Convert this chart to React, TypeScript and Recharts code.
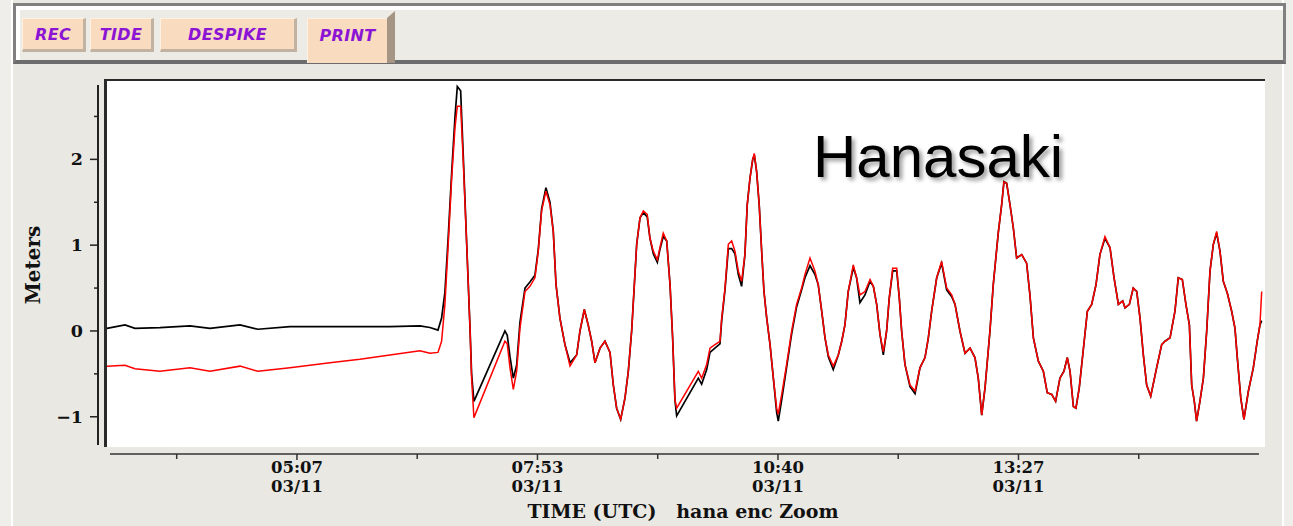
import React from 'react';
import { LineChart, Line, XAxis, YAxis, ReferenceLine } from 'recharts';

// minutes since 00:00 UTC, 03/11
const timeMin = [
  175.0, 187.5, 194.4, 211.7, 232.5, 246.4, 267.2, 279.6, 301.8, 329.5,
  350.3, 371.1, 391.9, 398.8, 404.4, 406.9, 409.2, 411.5, 413.9, 416.2,
  417.8, 420.1, 421.9, 424.3, 426.6, 427.7, 429.3, 450.8, 452.4, 454.3,
  456.6, 458.9, 461.2, 464.7, 468.1, 471.6, 473.9, 476.2, 479.2, 482.0,
  484.3, 486.2, 488.9, 492.4, 495.9, 500.5, 502.8, 505.8, 508.5, 510.9,
  513.2, 516.7, 520.1, 523.6, 525.9, 528.2, 531.0, 534.0, 536.3, 538.6,
  540.2, 542.1, 544.4, 546.7, 549.4, 551.3, 553.6, 556.4, 558.2, 560.5,
  562.9, 565.2, 567.0, 568.6, 569.8, 584.8, 587.1, 590.6, 592.9, 596.3,
  599.8, 601.0, 603.3, 605.6, 607.9, 610.2, 612.5, 614.8, 617.1, 618.7,
  620.6, 622.5, 623.6, 625.2, 627.0, 628.7, 630.3, 632.2, 634.5, 636.8,
  639.1, 640.2, 642.6, 646.0, 649.5, 652.9, 656.4, 658.7, 662.2, 665.6,
  667.9, 670.3, 672.6, 674.9, 678.3, 681.8, 684.2, 686.4, 688.7, 692.2,
  694.5, 696.8, 700.3, 703.8, 706.1, 708.4, 710.7, 713.0, 715.3, 717.1,
  719.5, 722.3, 724.1, 725.7, 728.0, 731.5, 735.0, 738.4, 741.9, 744.2,
  746.5, 750.0, 753.4, 756.9, 760.4, 762.7, 766.1, 769.6, 773.1, 776.5,
  778.8, 781.2, 783.5, 786.9, 789.2, 792.7, 795.0, 796.6, 798.5, 800.8,
  803.1, 805.4, 808.9, 812.3, 814.6, 817.0, 820.4, 823.9, 826.6, 829.7,
  832.4, 835.4, 838.2, 840.5, 842.4, 844.7, 846.5, 848.8, 851.2, 854.4,
  857.4, 860.4, 863.1, 866.6, 870.1, 872.9, 875.9, 878.9, 880.5, 883.5,
  886.2, 888.6, 890.9, 893.2, 895.5, 898.3, 902.4, 905.9, 908.2, 911.7,
  915.1, 917.4, 920.2, 922.7, 925.1, 926.7, 928.5, 930.1, 932.4, 934.8,
  937.1, 939.4, 941.7, 944.0, 946.3, 948.6, 951.4, 954.4, 956.7, 958.3,
  960.7, 962.9, 966.0, 969.4, 972.1, 974.0, 975.2,
];

// red trace (meters)
const redLevel = [
  -0.41, -0.40, -0.44, -0.47, -0.43, -0.47, -0.41, -0.47, -0.43, -0.37,
  -0.33, -0.28, -0.23, -0.26, -0.25, -0.12, 0.31, 1.01, 1.78, 2.37,
  2.62, 2.62, 1.98, 1.01, 0.03, -0.55, -1.01, -0.12, -0.15, -0.43,
  -0.68, -0.47, 0.03, 0.46, 0.52, 0.62, 0.93, 1.40, 1.63, 1.47,
  1.16, 0.54, 0.15, -0.16, -0.41, -0.28, 0.00, 0.25, 0.07, -0.12,
  -0.37, -0.20, -0.12, -0.25, -0.63, -0.90, -1.03, -0.78, -0.47, 0.00,
  0.46, 1.01, 1.32, 1.40, 1.36, 1.08, 0.93, 0.83, 0.97, 1.14,
  1.05, 0.54, -0.08, -0.80, -0.90, -0.47, -0.55, -0.39, -0.20, -0.16,
  -0.12, 0.15, 0.50, 1.01, 1.05, 0.93, 0.70, 0.58, 0.89, 1.47,
  1.78, 2.00, 2.07, 1.86, 1.47, 0.93, 0.46, 0.15, -0.16, -0.55,
  -0.90, -0.97, -0.74, -0.39, 0.00, 0.31, 0.50, 0.66, 0.85, 0.70,
  0.54, 0.23, -0.08, -0.28, -0.41, -0.28, -0.12, 0.07, 0.46, 0.77,
  0.62, 0.42, 0.46, 0.60, 0.52, 0.31, -0.04, -0.24, 0.00, 0.38,
  0.73, 0.73, 0.38, 0.00, -0.39, -0.63, -0.70, -0.43, -0.31, -0.08,
  0.23, 0.62, 0.81, 0.50, 0.42, 0.31, 0.00, -0.26, -0.20, -0.31,
  -0.55, -0.98, -0.66, 0.00, 0.54, 1.15, 1.47, 1.74, 1.72, 1.47,
  1.20, 0.85, 0.89, 0.79, 0.42, -0.08, -0.35, -0.47, -0.72, -0.74,
  -0.82, -0.55, -0.47, -0.31, -0.47, -0.88, -0.90, -0.66, -0.28, 0.23,
  0.31, 0.54, 0.89, 1.10, 0.97, 0.62, 0.31, 0.35, 0.27, 0.31,
  0.50, 0.46, 0.15, -0.28, -0.63, -0.76, -0.43, -0.16, -0.12, -0.08,
  0.23, 0.62, 0.60, 0.31, 0.07, -0.63, -0.82, -1.05, -0.82, -0.55,
  0.00, 0.70, 1.01, 1.16, 0.93, 0.58, 0.44, 0.23, 0.03, -0.31,
  -0.78, -1.03, -0.70, -0.43, -0.12, 0.07, 0.46,
];

// black trace (meters)
const blackLevel = [
  0.03, 0.07, 0.03, 0.04, 0.06, 0.03, 0.07, 0.02, 0.05, 0.05,
  0.05, 0.05, 0.06, 0.04, 0.01, 0.15, 0.45, 1.10, 1.85, 2.50,
  2.85, 2.80, 2.05, 1.01, 0.03, -0.50, -0.82, 0.00, -0.05, -0.30,
  -0.55, -0.40, 0.10, 0.50, 0.57, 0.65, 0.95, 1.42, 1.67, 1.50,
  1.16, 0.54, 0.15, -0.16, -0.37, -0.28, 0.00, 0.25, 0.07, -0.12,
  -0.37, -0.20, -0.12, -0.25, -0.63, -0.90, -1.03, -0.78, -0.47, 0.00,
  0.46, 1.01, 1.32, 1.38, 1.33, 1.08, 0.90, 0.80, 0.95, 1.10,
  1.05, 0.54, -0.08, -0.80, -0.99, -0.55, -0.62, -0.45, -0.25, -0.20,
  -0.15, 0.12, 0.48, 0.96, 0.96, 0.90, 0.66, 0.52, 0.89, 1.47,
  1.78, 2.00, 2.05, 1.86, 1.47, 0.93, 0.46, 0.15, -0.16, -0.55,
  -0.95, -1.05, -0.80, -0.42, -0.03, 0.28, 0.48, 0.62, 0.76, 0.66,
  0.54, 0.23, -0.08, -0.30, -0.45, -0.28, -0.12, 0.07, 0.46, 0.74,
  0.62, 0.33, 0.42, 0.58, 0.52, 0.31, -0.04, -0.28, 0.00, 0.38,
  0.70, 0.70, 0.38, 0.00, -0.39, -0.65, -0.73, -0.43, -0.31, -0.08,
  0.23, 0.62, 0.79, 0.48, 0.40, 0.31, 0.00, -0.26, -0.20, -0.31,
  -0.55, -0.98, -0.66, 0.00, 0.54, 1.15, 1.47, 1.74, 1.72, 1.47,
  1.20, 0.85, 0.89, 0.79, 0.42, -0.08, -0.35, -0.47, -0.72, -0.74,
  -0.82, -0.55, -0.47, -0.31, -0.47, -0.88, -0.90, -0.66, -0.28, 0.23,
  0.31, 0.54, 0.89, 1.08, 0.97, 0.62, 0.31, 0.35, 0.27, 0.31,
  0.50, 0.46, 0.15, -0.28, -0.63, -0.76, -0.43, -0.16, -0.12, -0.08,
  0.23, 0.62, 0.60, 0.31, 0.07, -0.63, -0.82, -1.05, -0.82, -0.55,
  0.00, 0.70, 1.01, 1.14, 0.93, 0.58, 0.44, 0.23, 0.03, -0.31,
  -0.78, -1.03, -0.70, -0.43, -0.12, 0.07, 0.12,
];

const majorTimeTicks = [306.667, 473.333, 640, 806.667];
const minorTimeTicks = [223.333, 390, 556.667, 723.333, 890];
const dateLabel = '03/11';
const meterTicks = [-1, 0, 1, 2];
const halfMeterTicks = [-0.5, 0.5, 1.5, 2.5];
const buttons = ['REC', 'TIDE', 'DESPIKE', 'PRINT'];

const X_MIN = 168.8;
const X_MAX = 977.5;
const Y_MIN = -1.434;
const Y_MAX = 2.925;

const data = timeMin.map((t, i) => ({ t, red: redLevel[i], black: blackLevel[i] }));

const clock = (v: number) => {
  const m = Math.round(v);
  const hh = String(Math.floor(m / 60)).padStart(2, '0');
  const mm = String(m % 60).padStart(2, '0');
  return `${hh}:${mm}`;
};

const serif = { fontFamily: 'DejaVu Serif', fontWeight: 'bold' as const };

const TimeTick = ({ x, y, payload }: any) => {
  const v = payload.value as number;
  const major = majorTimeTicks.some((m) => Math.abs(m - v) < 0.01);
  const axisY = y - 8;
  return (
    <g>
      <line x1={x} x2={x} y1={axisY} y2={axisY + (major ? 6 : 5)} stroke="#333" strokeWidth={1.5} />
      {major && (
        <text x={x} y={axisY + 19} textAnchor="middle" fontSize={16.5} fill="#111" style={serif}>
          {clock(v)}
        </text>
      )}
      {major && (
        <text x={x} y={axisY + 38} textAnchor="middle" fontSize={16.5} fill="#111" style={serif}>
          {dateLabel}
        </text>
      )}
    </g>
  );
};

const MeterTick = ({ x, y, payload }: any) => {
  const v = payload.value as number;
  const major = meterTicks.includes(v);
  const axisX = x + 8;
  return (
    <g>
      <line x1={axisX - (major ? 8 : 4)} x2={axisX} y1={y} y2={y} stroke="#222" strokeWidth={1.5} />
      {major && (
        <text x={axisX - 15} y={y + 6} textAnchor="end" fontSize={17.5} fill="#111" style={serif}>
          {v < 0 ? `\u2212${Math.abs(v)}` : v}
        </text>
      )}
    </g>
  );
};

const Button = ({ label, left, width, raised }: { label: string; left: number; width: number; raised?: boolean }) => (
  <>
    {raised && (
      <div
        style={{
          position: 'absolute', left: left + width, top: 11, width: 8, height: 52,
          background: '#a49584', clipPath: 'polygon(0 7px, 100% 0, 100% 100%, 0 100%)',
        }}
      />
    )}
    <div
      style={{
        position: 'absolute', left, top: 18, width, height: raised ? 45 : 34,
        boxSizing: 'border-box', background: '#f9dcc0',
        borderTop: '1px solid #fff0e0', borderLeft: '1px solid #fff0e0',
        borderRight: raised ? 'none' : '3px solid #c2b2a2', borderBottom: raised ? 'none' : '3px solid #c2b2a2',
        display: 'flex', alignItems: raised ? 'flex-start' : 'center', justifyContent: 'center',
        paddingTop: raised ? 7 : 0,
        fontFamily: 'DejaVu Sans', fontWeight: 'bold', fontStyle: 'italic', fontSize: 16,
        color: '#8c14d4', letterSpacing: 0.3,
      }}
    >
      {label}
    </div>
  </>
);

const buttonLayout = [
  { left: 22, width: 64 },
  { left: 90, width: 64 },
  { left: 160, width: 137 },
  { left: 307, width: 80 },
];

export default function App() {
  return (
    <div style={{ position: 'absolute', left: 0, top: 0, width: 1293, height: 526, background: '#efeeea', overflow: 'hidden' }}>
      <div
        style={{
          position: 'absolute', left: 11, top: 0, width: 1273, height: 526, boxSizing: 'border-box',
          background: '#e9e8e3', borderLeft: '2px solid #ffffff', borderRight: '2px solid #ffffff',
        }}
      />
      <div
        style={{
          position: 'absolute', left: 13, top: 3, width: 1273, height: 61, boxSizing: 'border-box',
          background: '#ecebe6', borderTop: '3px solid #808080', borderLeft: '3px solid #808080',
          borderRight: '3px solid #808080', borderBottom: '4px solid #6c6c6c',
          boxShadow: 'inset 4px 4px 0 #ffffff',
        }}
      />
      {buttons.map((b, i) => (
        <Button key={b} label={b} left={buttonLayout[i].left} width={buttonLayout[i].width} raised={b === 'PRINT'} />
      ))}

      <div
        style={{
          position: 'absolute', left: 104, top: 79, width: 1161, height: 368, boxSizing: 'border-box',
          background: '#ffffff', borderLeft: '3px solid #2a2a2a', borderTop: '2px solid #2a2a2a',
        }}
      />

      <div style={{ position: 'absolute', left: 0, top: 0 }}>
        <LineChart width={1293} height={526} data={data} margin={{ top: 80, right: 28, bottom: 42, left: 38 }}>
          <XAxis
            type="number"
            dataKey="t"
            domain={[X_MIN, X_MAX]}
            allowDataOverflow
            ticks={[...minorTimeTicks, ...majorTimeTicks].sort((a, b) => a - b)}
            interval={0}
            height={30}
            tickSize={6}
            tickMargin={2}
            axisLine={false}
            tickLine={false}
            tick={<TimeTick />}
          />
          <YAxis
            type="number"
            domain={[Y_MIN, Y_MAX]}
            allowDataOverflow
            ticks={[...meterTicks, ...halfMeterTicks].sort((a, b) => a - b)}
            interval={0}
            width={60}
            tickSize={6}
            tickMargin={2}
            axisLine={false}
            tickLine={false}
            tick={<MeterTick />}
          />
          <ReferenceLine
            segment={[{ x: X_MIN, y: 2.866 }, { x: X_MIN, y: -1.329 }]}
            stroke="#222"
            strokeWidth={2}
            ifOverflow="visible"
          />
          <ReferenceLine
            segment={[{ x: 177.1, y: Y_MIN }, { x: 973.3, y: Y_MIN }]}
            stroke="#333"
            strokeWidth={1.5}
            ifOverflow="visible"
          />
          <Line type="linear" dataKey="black" stroke="#000000" strokeWidth={1.7} dot={false} isAnimationActive={false} />
          <Line type="linear" dataKey="red" stroke="#ff0000" strokeWidth={1.5} dot={false} isAnimationActive={false} />
        </LineChart>
      </div>

      <div
        style={{
          position: 'absolute', left: 813, top: 127, fontFamily: 'Liberation Sans', fontSize: 60, lineHeight: '60px',
          color: '#000', textShadow: '3px 3px 4px rgba(0,0,0,0.4)', whiteSpace: 'nowrap',
        }}
      >
        Hanasaki
      </div>

      <div
        style={{
          position: 'absolute', left: 33, top: 265, transform: 'translate(-50%, -50%) rotate(-90deg)',
          fontFamily: 'DejaVu Serif', fontWeight: 'bold', fontSize: 20, color: '#111', whiteSpace: 'nowrap',
        }}
      >
        Meters
      </div>

      <div
        style={{
          position: 'absolute', left: 683, top: 511, transform: 'translate(-50%, -50%)',
          fontFamily: 'DejaVu Serif', fontWeight: 'bold', fontSize: 19, color: '#111', whiteSpace: 'pre',
        }}
      >
        {'TIME (UTC)   hana enc Zoom'}
      </div>
    </div>
  );
}
